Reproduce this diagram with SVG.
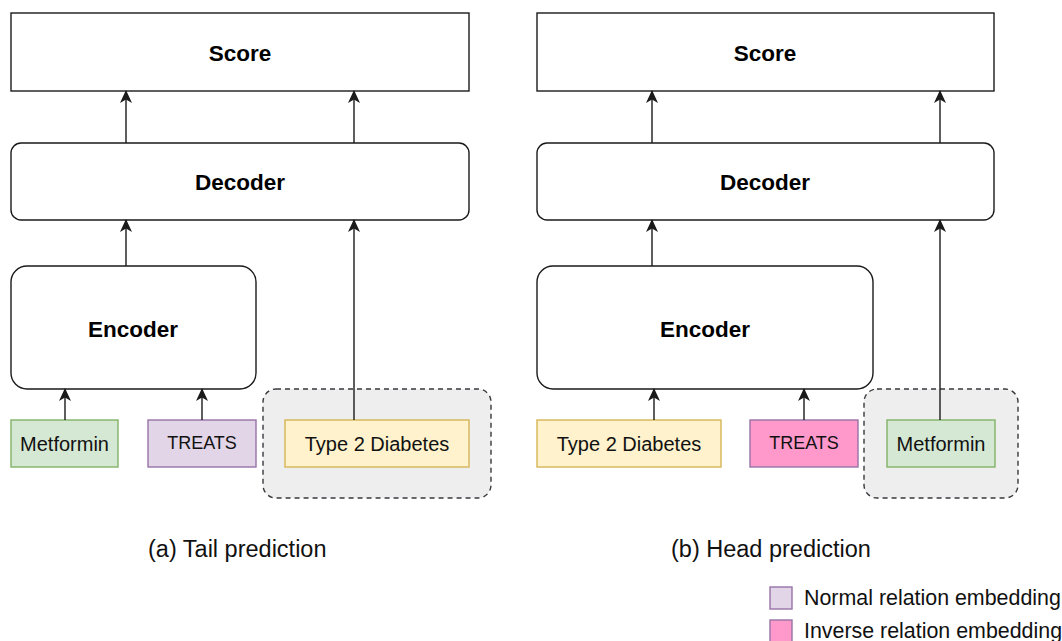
<svg xmlns="http://www.w3.org/2000/svg" width="1062" height="641" viewBox="0 0 1062 641">
  <style>
    .box { fill: #ffffff; stroke: #1a1a1a; stroke-width: 1.4; }
    .title { font-family: "Liberation Sans", Arial, sans-serif; font-weight: bold; font-size: 22.5px; fill: #000; text-anchor: middle; dominant-baseline: central; }
    .label { font-family: "Liberation Sans", Arial, sans-serif; font-size: 20px; fill: #111; text-anchor: middle; dominant-baseline: central; }
    .rel { font-size: 18px; }
    .green { fill: #d5e8d4; stroke: #82b366; stroke-width: 1.4; }
    .purple { fill: #e1d5e7; stroke: #9673a6; stroke-width: 1.4; }
    .pink { fill: #ff99cc; stroke: #9673a6; stroke-width: 1.4; }
    .yellow { fill: #fff2cc; stroke: #d6b656; stroke-width: 1.4; }
    .target { fill: #eeeeee; stroke: #36393d; stroke-width: 1.4; stroke-dasharray: 5 4; }
    .edge { fill: none; stroke: #1a1a1a; stroke-width: 1.4; marker-end: url(#arrow); }
    .caption { font-family: "Liberation Sans", Arial, sans-serif; font-size: 23.5px; fill: #111; }
    .legend { font-family: "Liberation Sans", Arial, sans-serif; font-size: 21.4px; fill: #111; }
  </style>
  <defs>
    <!-- filled classic arrowhead with a shallow notch -->
    <marker id="arrow" viewBox="0 0 13 13" refX="12" refY="6.5" markerWidth="13" markerHeight="13" markerUnits="userSpaceOnUse" orient="auto">
      <path d="M0,0.5 L13,6.5 L0,12.5 L3.5,6.5 z" fill="#1a1a1a"/>
    </marker>
  </defs>

  <!-- (a) tail prediction -->
  <g id="a-score"><rect class="box" x="11" y="13" width="458" height="78"/><text class="title" x="240" y="53">Score</text></g>
  <g id="a-decoder"><rect class="box" x="11" y="143" width="458" height="77" rx="10"/><text class="title" x="240" y="182">Decoder</text></g>
  <g id="a-encoder"><rect class="box" x="11" y="266" width="245" height="123" rx="16"/><text class="title" x="133" y="329">Encoder</text></g>
  <g id="a-target"><rect class="target" x="263" y="389" width="228" height="109" rx="13"/></g>
  <g id="a-head"><rect class="green" x="11" y="420" width="107" height="47"/><text class="label" x="64.5" y="443.5">Metformin</text></g>
  <g id="a-rel"><rect class="purple" x="148" y="420" width="108" height="47"/><text class="label rel" x="202" y="443">TREATS</text></g>
  <g id="a-tail"><rect class="yellow" x="285" y="420" width="184" height="47"/><text class="label" x="377" y="443.5">Type 2 Diabetes</text></g>

  <!-- (b) head prediction -->
  <g id="b-score"><rect class="box" x="537" y="13" width="457" height="78"/><text class="title" x="765" y="53">Score</text></g>
  <g id="b-decoder"><rect class="box" x="537" y="143" width="457" height="77" rx="10"/><text class="title" x="765" y="182">Decoder</text></g>
  <g id="b-encoder"><rect class="box" x="537" y="266" width="336" height="123" rx="16"/><text class="title" x="705" y="329">Encoder</text></g>
  <g id="b-target"><rect class="target" x="864" y="389" width="154" height="109" rx="13"/></g>
  <g id="b-tail"><rect class="yellow" x="537" y="420" width="184" height="47"/><text class="label" x="629" y="443.5">Type 2 Diabetes</text></g>
  <g id="b-rel"><rect class="pink" x="750" y="420" width="108" height="47"/><text class="label rel" x="804" y="443">TREATS</text></g>
  <g id="b-head"><rect class="green" x="887" y="420" width="108" height="47"/><text class="label" x="941" y="443.5">Metformin</text></g>

  <!-- connectors -->
  <g id="connectors">
    <path class="edge" d="M65,420 V389"/>
    <path class="edge" d="M202,420 V389"/>
    <path class="edge" d="M126,266 V220"/>
    <path class="edge" d="M354,420 V220"/>
    <path class="edge" d="M126,143 V91"/>
    <path class="edge" d="M354,143 V91"/>
    <path class="edge" d="M654,420 V389"/>
    <path class="edge" d="M804,420 V389"/>
    <path class="edge" d="M652,266 V220"/>
    <path class="edge" d="M940,420 V220"/>
    <path class="edge" d="M652,143 V91"/>
    <path class="edge" d="M940,143 V91"/>
  </g>

  <!-- captions -->
  <g id="captions">
    <text class="caption" x="148" y="557">(a) Tail prediction</text>
    <text class="caption" x="671" y="557">(b) Head prediction</text>
  </g>

  <!-- legend -->
  <g id="legend">
    <rect class="purple" x="770" y="587" width="22" height="22"/>
    <text class="legend" x="804" y="605">Normal relation embedding</text>
    <rect class="pink" x="770" y="620" width="22" height="22"/>
    <text class="legend" x="804" y="638">Inverse relation embedding</text>
  </g>
</svg>
